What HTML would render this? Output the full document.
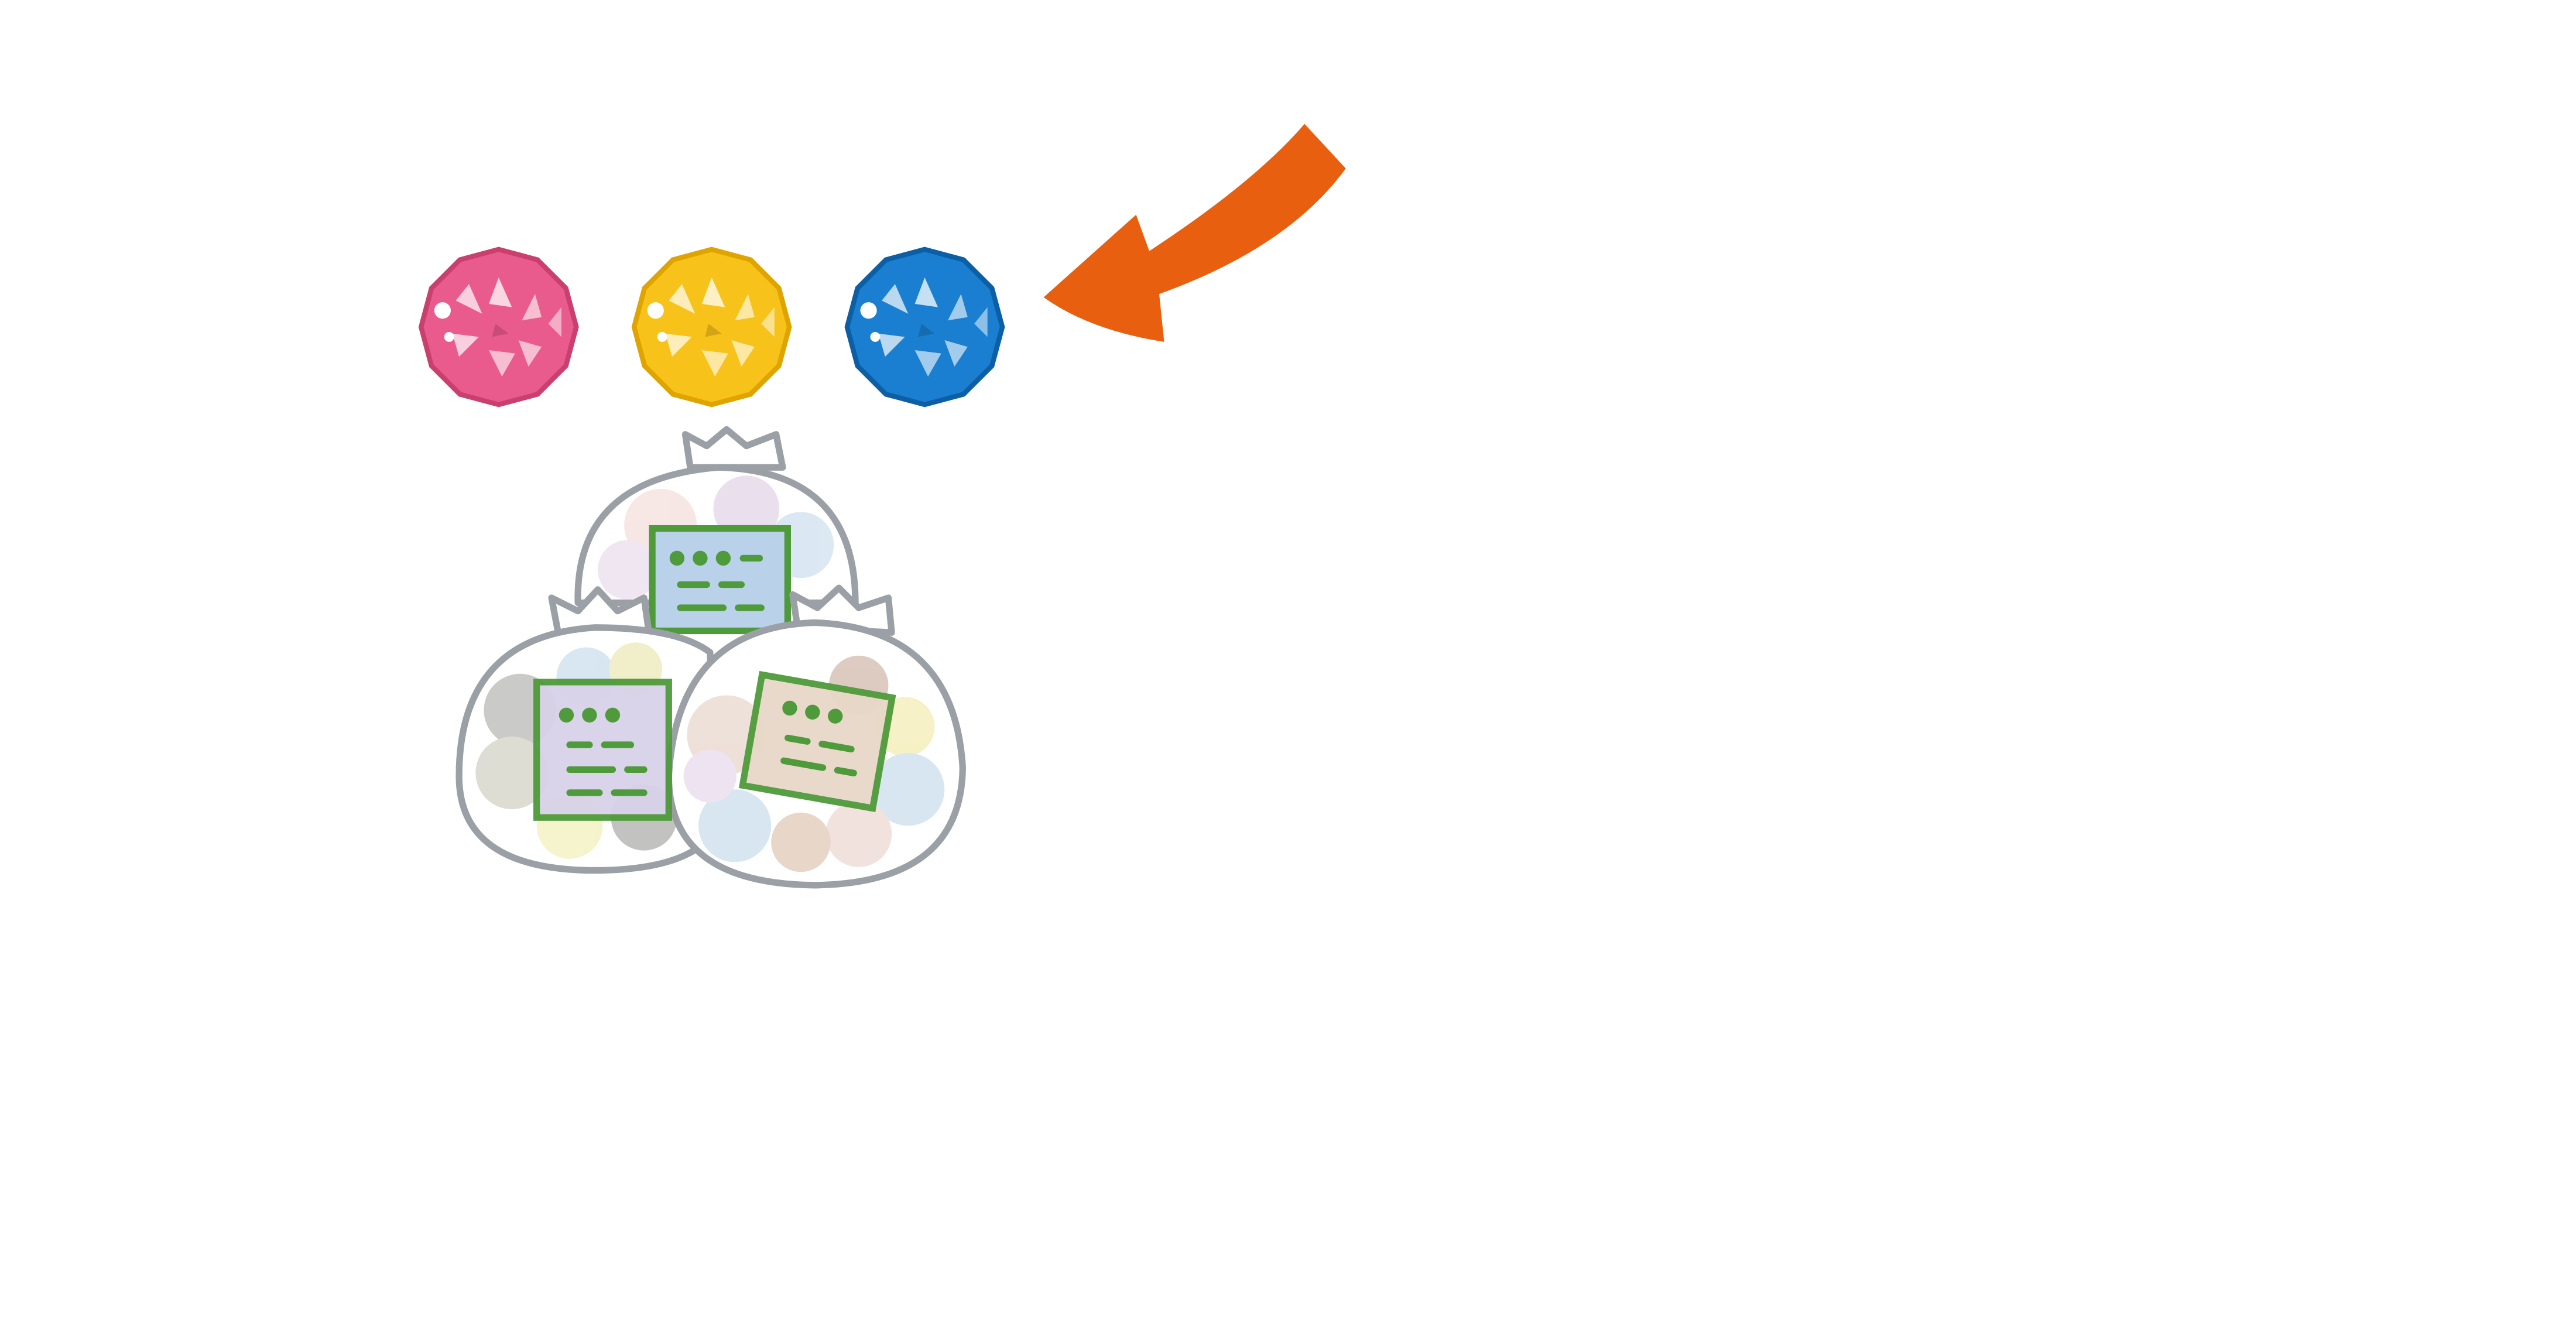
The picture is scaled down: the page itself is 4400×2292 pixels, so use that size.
<!DOCTYPE html>
<html><head><meta charset="utf-8"><style>
html,body{margin:0;padding:0;background:#fff;width:4400px;height:2292px;overflow:hidden}
svg{display:block}
</style></head><body>
<svg width="4400" height="2292" viewBox="0 0 1560 812.6" xmlns="http://www.w3.org/2000/svg">
<defs>
<polygon id="gemshape" points="0,-47 23.5,-40.7 40.7,-23.5 47,0 40.7,23.5 23.5,40.7 0,47 -23.5,40.7 -40.7,23.5 -47,0 -40.7,-23.5 -23.5,-40.7"/>
<g id="facets">
  <polygon points="0,-30 8,-12 -6,-14" fill="#fff" opacity=".75"/>
  <polygon points="22,-20 14,-4 26,-6" fill="#fff" opacity=".6"/>
  <polygon points="26,12 12,8 18,24" fill="#fff" opacity=".6"/>
  <polygon points="2,30 -6,14 10,16" fill="#fff" opacity=".6"/>
  <polygon points="-24,18 -12,6 -28,4" fill="#fff" opacity=".7"/>
  <polygon points="-26,-16 -10,-8 -18,-26" fill="#fff" opacity=".7"/>
  <polygon points="30,-2 38,-12 38,6" fill="#fff" opacity=".5"/>
  <polygon points="-2,-2 6,4 -4,6" fill="#000" opacity=".15"/>
  <circle cx="-34" cy="-10" r="5" fill="#fff"/>
  <circle cx="-30" cy="6" r="3" fill="#fff"/>
</g>
</defs>
<g transform="translate(302,198)">
 <use href="#gemshape" fill="#ea5b8d" stroke="#c9406f" stroke-width="3"/>
 <use href="#facets"/>
</g>
<g transform="translate(431,198)">
 <use href="#gemshape" fill="#f7c21a" stroke="#e0a400" stroke-width="3"/>
 <use href="#facets"/>
</g>
<g transform="translate(560,198)">
 <use href="#gemshape" fill="#1a7fd0" stroke="#0d5fa5" stroke-width="3"/>
 <use href="#facets"/>
</g>
<path d="M632,180 L688,130 L696,152 Q760,110 790,75 L815,102 Q780,150 702,178 L705,207 Q660,200 632,180 Z" fill="#e8600f"/>
<g stroke="#9aa0a6" stroke-width="4" stroke-linejoin="round">
 <path d="M418,283 L415,263 L428,270 L440,260 L452,270 L470,263 L474,283 Z" fill="#fff"/>
 <path d="M350,365 Q348,290 435,283 Q518,285 518,365 Z" fill="#fff"/>
</g>
<g opacity=".55" stroke="none">
 <circle cx="400" cy="318" r="22" fill="#f2d5cf"/><circle cx="452" cy="308" r="20" fill="#d9c6df"/>
 <circle cx="485" cy="330" r="20" fill="#bfd7ea"/><circle cx="380" cy="345" r="18" fill="#e3d3e8"/>
</g>
<rect x="395" y="320" width="82" height="62" fill="#b9d2ea" stroke="#4f9a3a" stroke-width="4"/>
<g stroke="#9aa0a6" stroke-width="4" stroke-linejoin="round" fill="#fff">
 <path d="M338,383 L334,362 L350,370 L362,357 L374,370 L390,362 L393,383 Z"/>
 <path d="M360,380 Q278,385 278,470 Q278,525 355,527 Q420,528 435,500 L430,395 Q410,380 360,380 Z"/>
 <path d="M483,380 L480,360 L495,368 L508,356 L520,368 L538,362 L540,383 Z"/>
 <path d="M493,377 Q410,380 405,470 Q405,535 493,536 Q582,535 583,465 Q578,380 493,377 Z"/>
</g>
<g opacity=".6" stroke="none">
 <circle cx="315" cy="430" r="22" fill="#a8a8a4"/><circle cx="310" cy="468" r="22" fill="#c8c8b8"/>
 <circle cx="345" cy="500" r="20" fill="#f0ecaa"/><circle cx="390" cy="495" r="20" fill="#9a9a98"/>
 <circle cx="355" cy="410" r="18" fill="#bfd7ea"/><circle cx="385" cy="405" r="16" fill="#e8e4a8"/>
 <circle cx="440" cy="445" r="24" fill="#e3cdbf"/><circle cx="445" cy="500" r="22" fill="#bfd7ea"/>
 <circle cx="520" cy="415" r="18" fill="#c8a898"/><circle cx="548" cy="440" r="18" fill="#f0e8a0"/>
 <circle cx="550" cy="478" r="22" fill="#bfd7ea"/><circle cx="520" cy="505" r="20" fill="#e8cfc8"/>
 <circle cx="485" cy="510" r="18" fill="#d9bba6"/><circle cx="430" cy="470" r="16" fill="#e3d3e8"/>
</g>
<rect x="325" y="413" width="80" height="82" fill="#d8d2e8" stroke="#4f9a3a" stroke-width="4" opacity=".95"/>
<rect x="455" y="415" width="80" height="68" fill="#e8d8c8" stroke="#4f9a3a" stroke-width="4" transform="rotate(10 495 449)" opacity=".95"/>
<g fill="#4f9a3a">
 <circle cx="410" cy="338" r="4.5"/><circle cx="424" cy="338" r="4.5"/><circle cx="438" cy="338" r="4.5"/>
 <rect x="448" y="336" width="14" height="4" rx="2"/>
 <rect x="410" y="352" width="20" height="4" rx="2"/><rect x="435" y="352" width="16" height="4" rx="2"/>
 <rect x="410" y="366" width="30" height="4" rx="2"/><rect x="445" y="366" width="18" height="4" rx="2"/>
 <circle cx="343" cy="433" r="4.5"/><circle cx="357" cy="433" r="4.5"/><circle cx="371" cy="433" r="4.5"/>
 <rect x="343" y="449" width="16" height="4" rx="2"/><rect x="364" y="449" width="20" height="4" rx="2"/>
 <rect x="343" y="464" width="30" height="4" rx="2"/><rect x="378" y="464" width="14" height="4" rx="2"/>
 <rect x="343" y="478" width="22" height="4" rx="2"/><rect x="370" y="478" width="22" height="4" rx="2"/>
</g>
<g fill="#4f9a3a" transform="rotate(10 495 449)">
 <circle cx="475" cy="432" r="4.5"/><circle cx="489" cy="432" r="4.5"/><circle cx="503" cy="432" r="4.5"/>
 <rect x="475" y="448" width="16" height="4" rx="2"/><rect x="496" y="448" width="22" height="4" rx="2"/>
 <rect x="475" y="462" width="28" height="4" rx="2"/><rect x="508" y="462" width="14" height="4" rx="2"/>
</g>
</svg>
</body></html>
